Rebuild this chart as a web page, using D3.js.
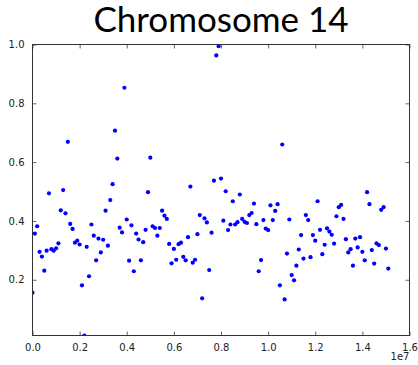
<!DOCTYPE html>
<html>
<head>
<meta charset="utf-8">
<script src="https://cdn.jsdelivr.net/npm/d3@7"></script>
<style>
body { margin: 0; background: #fff; }
</style>
</head>
<body>
<div id="chart"></div>
<script>
// positions along the chromosome, in Mb
var positions = [0.0,0.1,0.2,0.3,0.4,0.5,0.6,0.7,0.8,0.9,1.0,1.1,1.2,1.3,1.4,1.5,1.6,1.7,1.8,1.9,
    2.0,2.1,2.2,2.3,2.4,2.5,2.6,2.7,2.8,2.9,3.0,3.1,3.2,3.3,3.4,3.5,3.6,3.7,3.8,3.9,
    4.0,4.1,4.2,4.3,4.4,4.5,4.6,4.7,4.8,4.9,5.0,5.1,5.2,5.3,5.4,5.5,5.6,5.7,5.8,5.9,
    6.0,6.1,6.2,6.3,6.4,6.5,6.6,6.7,6.8,6.9,7.0,7.1,7.2,7.3,7.4,7.5,7.6,7.7,7.8,7.9,
    8.0,8.1,8.2,8.3,8.4,8.5,8.6,8.7,8.8,8.9,9.0,9.1,9.2,9.3,9.4,9.5,9.6,9.7,9.8,9.9,
    10.0,10.1,10.2,10.3,10.4,10.5,10.6,10.7,10.8,10.9,11.0,11.1,11.2,11.3,11.4,11.5,11.6,11.7,11.8,11.9,
    12.0,12.1,12.2,12.3,12.4,12.5,12.6,12.7,12.8,12.9,13.0,13.1,13.2,13.3,13.4,13.5,13.6,13.7,13.8,13.9,
    14.0,14.1,14.2,14.3,14.4,14.5,14.6,14.7,14.8,14.9,15.0,15.1];

var values = [0.156,0.357,0.382,0.295,0.279,0.231,0.299,0.494,0.304,0.299,
    0.307,0.324,0.436,0.505,0.426,0.669,0.390,0.373,0.326,0.333,
    0.320,0.181,0.0105,0.312,0.212,0.388,0.350,0.266,0.340,0.293,
    0.336,0.435,0.316,0.471,0.525,0.707,0.612,0.377,0.361,0.853,
    0.405,0.265,0.385,0.229,0.357,0.337,0.266,0.328,0.370,0.498,
    0.615,0.382,0.376,0.350,0.376,0.435,0.418,0.407,0.322,0.256,
    0.305,0.268,0.321,0.326,0.278,0.266,0.345,0.517,0.258,0.268,
    0.355,0.420,0.137,0.409,0.395,0.233,0.360,0.537,0.963,0.994,
    0.544,0.401,0.501,0.369,0.388,0.467,0.388,0.396,0.490,0.407,
    0.397,0.393,0.420,0.427,0.459,0.389,0.229,0.267,0.403,0.374,
    0.369,0.453,0.403,0.434,0.457,0.181,0.660,0.133,0.289,0.405,
    0.216,0.198,0.248,0.303,0.352,0.272,0.420,0.403,0.277,0.352,
    0.333,0.467,0.370,0.287,0.319,0.375,0.364,0.353,0.323,0.416,
    0.447,0.455,0.407,0.338,0.293,0.304,0.248,0.340,0.310,0.345,
    0.295,0.266,0.498,0.457,0.301,0.255,0.324,0.318,0.438,0.447,
    0.306,0.238];

var xTicks = [0.0,0.2,0.4,0.6,0.8,1.0,1.2,1.4,1.6];   // x 1e7
var yTicks = [0.2,0.4,0.6,0.8,1.0];
var title = "Chromosome 14";

var width = 418, height = 365;
var pL = 32.5, pR = 409.5, pT = 44.5, pB = 335.5;

var svg = d3.select("#chart").append("svg").attr("width",width).attr("height",height);

var x = d3.scaleLinear().domain([0,1.6e7]).range([pL,pR]);
var y = d3.scaleLinear().domain([0.0105,1.0]).range([pB,pT]);

svg.append("clipPath").attr("id","plot")
    .append("rect").attr("x",pL).attr("y",pT).attr("width",pR-pL).attr("height",pB-pT);

svg.append("g").attr("clip-path","url(#plot)")
    .selectAll("circle")
    .data(values)
    .enter()
    .append("circle")
    .attr("cx",function(d,i){return x(positions[i]*1e6);})
    .attr("cy",function(d){return y(d);})
    .attr("r",2.1)
    .attr("fill","#0000ff");

function style(g){
    g.select(".domain").remove();
    g.selectAll(".tick line").attr("stroke","#666");
    g.selectAll(".tick text").attr("fill","#222")
        .style("font-family","'DejaVu Sans', sans-serif").style("font-size","10px");
}

var xt = xTicks.map(function(d){return d*1e7;});
svg.append("g").attr("transform","translate(0,"+pB+")")
    .call(d3.axisBottom(x).tickValues(xt).tickSizeInner(-4).tickSizeOuter(0).tickPadding(8)
        .tickFormat(function(d){return d3.format(".1f")(d/1e7);}))
    .call(style);
svg.append("g").attr("transform","translate(0,"+pT+")")
    .call(d3.axisTop(x).tickValues(xt).tickSizeInner(-4).tickSizeOuter(0).tickFormat(""))
    .call(style);
svg.append("g").attr("transform","translate("+pL+",0)")
    .call(d3.axisLeft(y).tickValues(yTicks).tickSizeInner(-4).tickSizeOuter(0).tickPadding(8)
        .tickFormat(d3.format(".1f")))
    .call(style);
svg.append("g").attr("transform","translate("+pR+",0)")
    .call(d3.axisRight(y).tickValues(yTicks).tickSizeInner(-4).tickSizeOuter(0).tickFormat(""))
    .call(style);

svg.append("rect").attr("x",pL).attr("y",pT).attr("width",pR-pL).attr("height",pB-pT)
    .attr("fill","none").attr("stroke","#333").attr("stroke-width",1);

svg.append("text").attr("x",pR).attr("y",360)
    .attr("text-anchor","end")
    .style("font-family","'DejaVu Sans', sans-serif").style("font-size","10px")
    .attr("fill","#222")
    .text("1e7");

var t = svg.append("text").attr("x",(pL+pR)/2).attr("y",32)
    .attr("text-anchor","middle")
    .style("font-family","Lato, 'Open Sans', sans-serif").style("font-size","36px")
    .attr("fill","#000")
    .text(title);
var w = t.node().getComputedTextLength();
t.style("font-size",(36*255/w).toFixed(1)+"px");
</script>
</body>
</html>
